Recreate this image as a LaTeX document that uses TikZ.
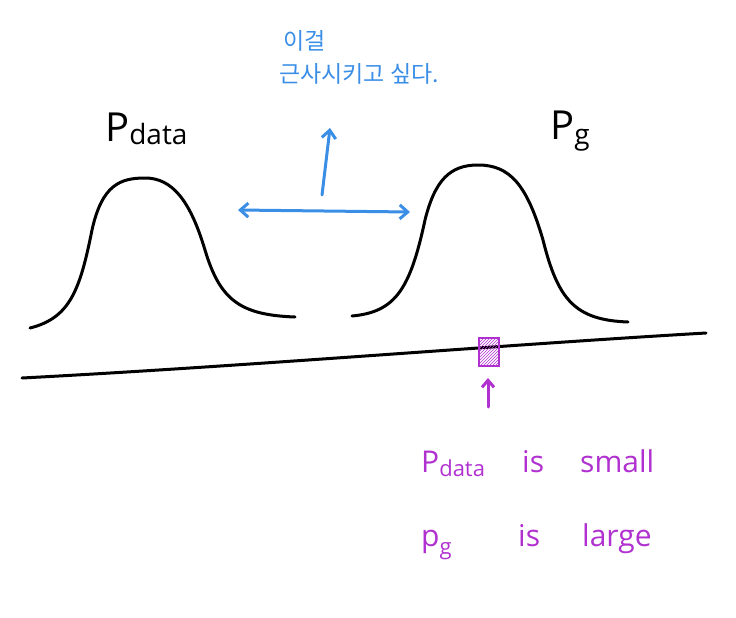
\documentclass[tikz,border=0pt]{standalone}
\usepackage{fontspec}
\setmainfont{Open Sans}
\newfontfamily\kor{Noto Sans CJK KR}
\usetikzlibrary{arrows.meta,patterns}
\definecolor{hblue}{HTML}{3A8EE6}
\definecolor{hmag}{HTML}{B030D0}
\tikzset{
  ink/.style={line width=3pt, line cap=round, line join=round},
  blueink/.style={ink, hblue, -{Straight Barb[length=8pt,width=14pt]}},
  lbl/.style={inner sep=0pt, anchor=base west},
  mag/.style={lbl, hmag, font=\fontsize{30}{30}\selectfont},
}
\begin{document}
\begin{tikzpicture}[x=1pt,y=-1pt]
\useasboundingbox (0,0) rectangle (736,618);
% baseline
\coordinate (b1) at (22,378);
\coordinate (b2) at (706,333);
\draw[ink] (b1) .. controls (250,366) and (500,345) .. (b2);
% left bell
\draw[ink] (30,328) .. controls (70,318) and (80,290) .. (92,230)
  .. controls (102,185) and (120,178) .. (145,178)
  .. controls (172,178) and (190,200) .. (205,250)
  .. controls (220,300) and (240,315) .. (295,317);
% right bell
\draw[ink] (352,316) .. controls (395,312) and (410,290) .. (425,220)
  .. controls (435,180) and (450,165) .. (478,165)
  .. controls (510,165) and (527,185) .. (543,240)
  .. controls (558,300) and (575,320) .. (628,322);
% labels
\node[lbl, font=\fontsize{40}{40}\selectfont] (pd) at (105,141) {P\raisebox{-3pt}{\fontsize{28}{28}\selectfont data}};
\node[lbl, font=\fontsize{40}{40}\selectfont] (pg) at (550,139) {P\raisebox{-5pt}{\fontsize{28}{28}\selectfont g}};
% blue arrows
\coordinate (hl) at (238,210);
\coordinate (hr) at (410,212);
\coordinate (vb) at (322,195);
\coordinate (vt) at (330,128);
\draw[blueink, {Straight Barb[length=8pt,width=14pt]}-{Straight Barb[length=8pt,width=14pt]}] (hl) -- (hr);
\draw[blueink] (vb) -- (vt);
% korean
\node[lbl, hblue, font=\kor\fontsize{23}{23}\selectfont] (k1) at (283,50) {이걸};
\node[lbl, hblue, font=\kor\fontsize{23}{23}\selectfont] (k2) at (279,82) {근사시키고 싶다.};
% magenta box
\node[draw=hmag, line width=2pt, minimum width=20pt, minimum height=28pt, inner sep=0pt,
  pattern=north east lines, pattern color=hmag] (box) at (489,352) {};
\coordinate (at) at (488,378);
\coordinate (ab) at (488,407);
\draw[ink, hmag, -{Straight Barb[length=7pt,width=12pt]}] (ab) -- (at);
\node[mag] (t1a) at (421,472) {P\raisebox{-4pt}{\fontsize{22}{22}\selectfont data}};
\node[mag] (t1b) at (522,472) {is};
\node[mag] (t1c) at (580,472) {small};
\node[mag] (t2a) at (421,546) {p\raisebox{-8pt}{\fontsize{22}{22}\selectfont g}};
\node[mag] (t2b) at (518,546) {is};
\node[mag] (t2c) at (582,546) {large};
\end{tikzpicture}
\end{document}
